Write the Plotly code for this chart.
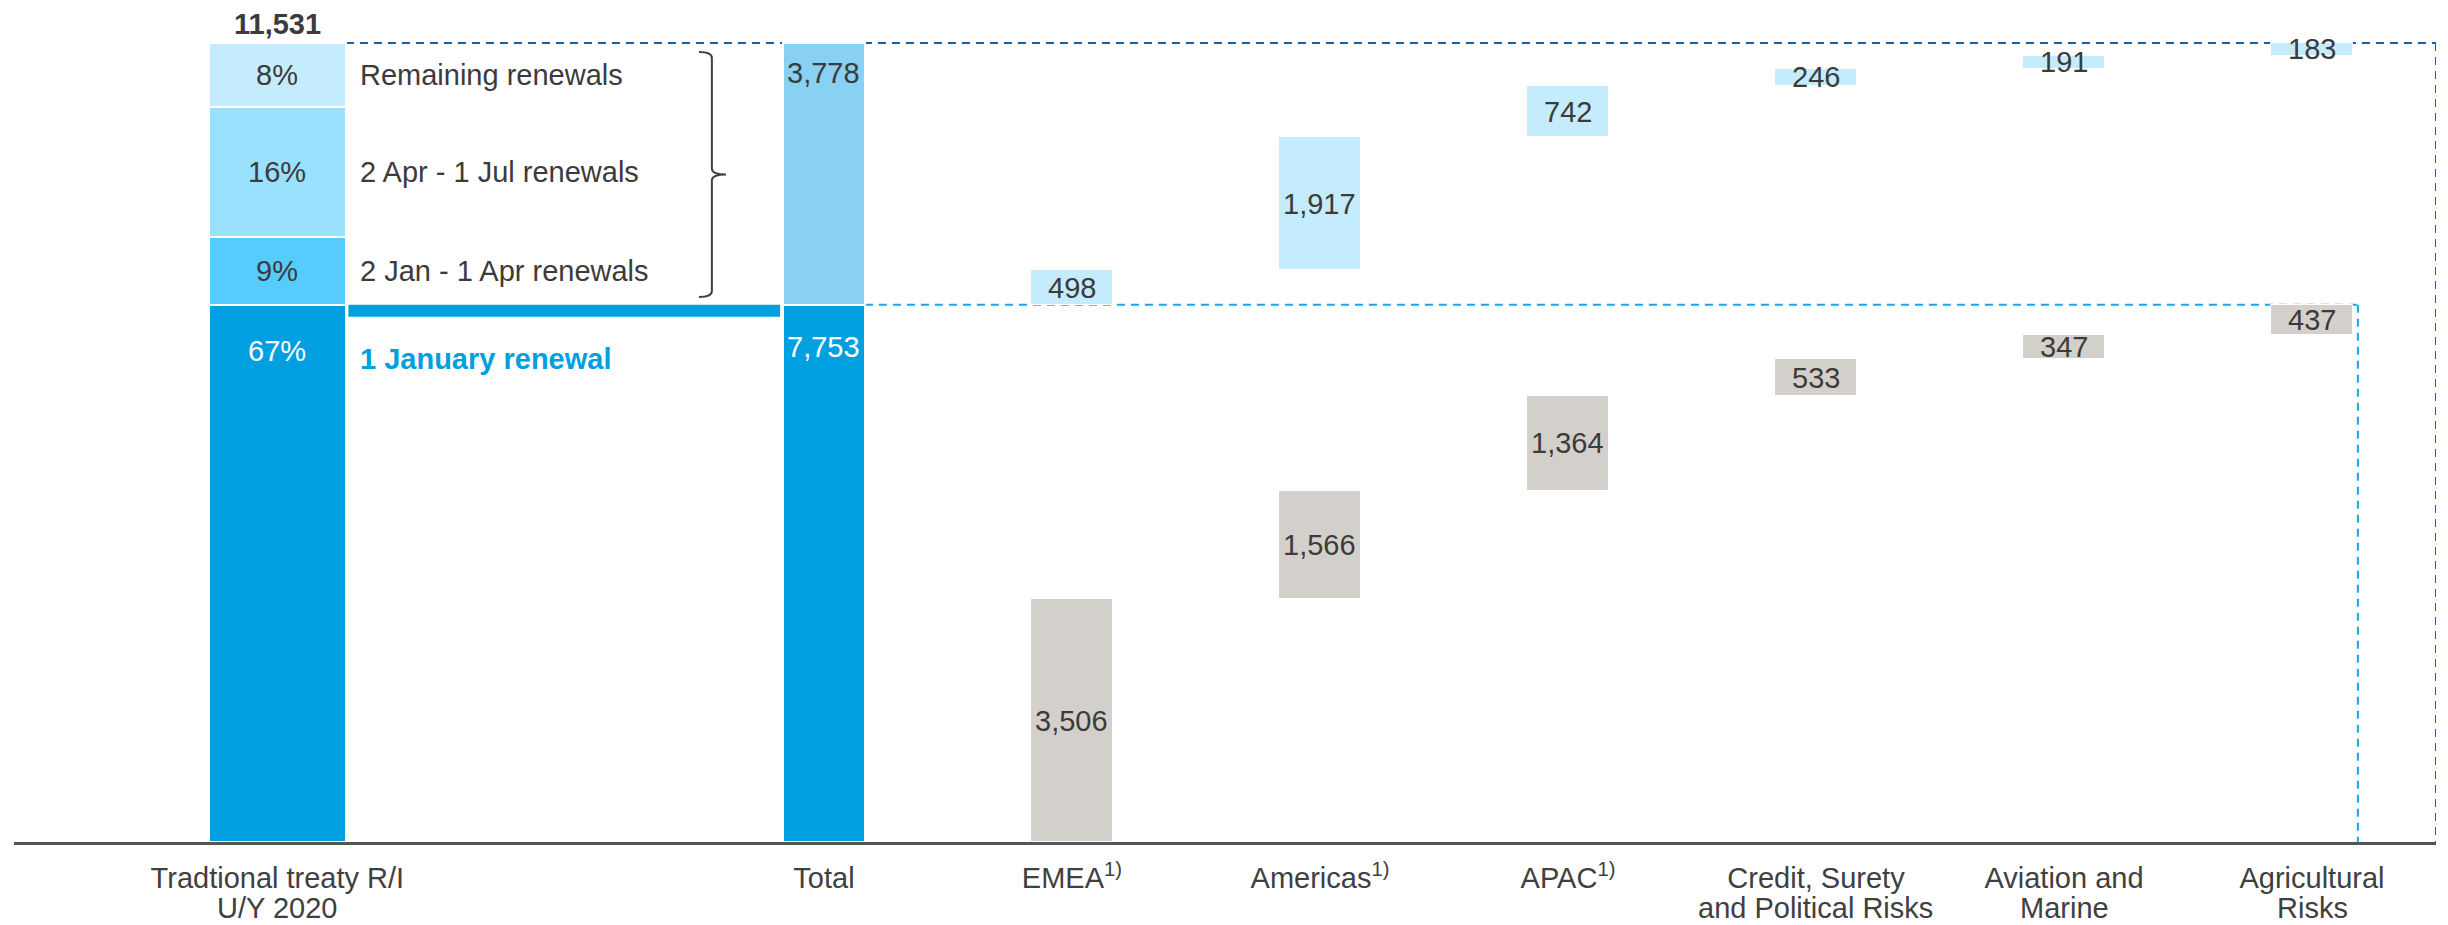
import numpy as np
import plotly.graph_objects as go

# ---------------- data ----------------
categories = ["Tradtional treaty R/I<br>U/Y 2020", "Total", "EMEA<sup>1)</sup>",
              "Americas<sup>1)</sup>", "APAC<sup>1)</sup>",
              "Credit, Surety<br>and Political Risks", "Aviation and<br>Marine",
              "Agricultural<br>Risks"]
grand_total = 11531
total_jan = 7753          # 1 January renewal
total_rest = 3778         # later renewals
segment_names = ["1 January renewal", "2 Jan - 1 Apr renewals",
                 "2 Apr - 1 Jul renewals", "Remaining renewals"]
segment_pct = ["67%", "9%", "16%", "8%"]
segment_values = [7753, 980, 1875, 923]   # (sum = 11,531)
jan_values = [3506, 1566, 1364, 533, 347, 437]    # grey, by segment
rest_values = [498, 1917, 742, 246, 191, 183]     # light blue, by segment

# ---------------- layout / style ----------------
X_POS = [-2.204, 0, 1, 2, 3, 4, 5, 6]
TRAD_W = 0.553
BAR_W = 0.33
X_RANGE = [-3.266, 6.5]
Y_MAX = 12007
FONT = "Liberation Sans, Arial, sans-serif"
FS = 29
TXT = "#3b3b3b"
TICK_TXT = "#404040"
DARK_BLUE = "#009FE0"
SEG_COLORS = [DARK_BLUE, "#55CCFC", "#99E1FD", "#C5ECFD"]
TOTAL_REST_COLOR = "#89D1F2"
LIGHT = "#C5ECFD"
GREY = "#D3D0CB"
DASH_DARK = "#1F5E9E"
DASH_LIGHT = "#1AA7E6"

fig = go.Figure()
annotations = []
shapes = []


def label(x, y, text, color=TXT, yshift=0, xanchor="center", xshift=0, yanchor="middle"):
    return dict(x=x, y=y, text=text, xanchor=xanchor, yanchor=yanchor,
                xshift=xshift, yshift=yshift, showarrow=False,
                font=dict(color=color, size=FS, family=FONT))


# traditional treaty stacked bar
trad_x = X_POS[0]
bases = np.concatenate([[0], np.cumsum(segment_values)[:-1]])
for v, b, c, name in zip(segment_values, bases, SEG_COLORS, segment_names):
    fig.add_trace(go.Bar(x=[trad_x], y=[v], base=[b], width=[TRAD_W],
                         marker=dict(color=c, line=dict(color="white", width=2)),
                         name=name, hoverinfo="skip"))
trad_right = trad_x + TRAD_W / 2
for i, (v, b, pct, name) in enumerate(zip(segment_values, bases, segment_pct, segment_names)):
    if i == 0:
        annotations.append(label(trad_x, b + v, pct, color="white", yshift=-46))
        annotations.append(label(trad_right, b + v, "<b>" + name + "</b>", color=DARK_BLUE,
                                 xanchor="left", xshift=12, yshift=-54))
    else:
        annotations.append(label(trad_x, b + v / 2, pct))
        annotations.append(label(trad_right, b + v / 2, name, xanchor="left", xshift=12))
annotations.append(label(trad_x, grand_total, "<b>" + f"{grand_total:,}" + "</b>", yshift=19))

# total bar
tot_x = X_POS[1]
fig.add_trace(go.Bar(x=[tot_x], y=[total_jan], base=[0], width=[BAR_W],
                     marker=dict(color=DARK_BLUE, line=dict(color="white", width=2)),
                     hoverinfo="skip"))
fig.add_trace(go.Bar(x=[tot_x], y=[total_rest], base=[total_jan], width=[BAR_W],
                     marker=dict(color=TOTAL_REST_COLOR, line=dict(color="white", width=2)),
                     hoverinfo="skip"))
annotations.append(label(tot_x, total_jan, f"{total_jan:,}", color="white", yshift=-42))
annotations.append(label(tot_x, total_jan + total_rest, f"{total_rest:,}", yshift=-30))

# waterfall segments
seg_x = X_POS[2:]
jan_base = np.concatenate([[0], np.cumsum(jan_values)[:-1]])
rest_base = total_jan + np.concatenate([[0], np.cumsum(rest_values)[:-1]])
fig.add_trace(go.Bar(x=seg_x, y=jan_values, base=jan_base, width=BAR_W,
                     marker=dict(color=GREY, line=dict(color="white", width=1)),
                     hoverinfo="skip"))
fig.add_trace(go.Bar(x=seg_x, y=rest_values, base=rest_base, width=BAR_W,
                     marker=dict(color=LIGHT, line=dict(color="white", width=1)),
                     hoverinfo="skip"))
for x, v, b in zip(seg_x, jan_values, jan_base):
    annotations.append(label(x, b + v / 2, f"{v:,}"))
for x, v, b in zip(seg_x, rest_values, rest_base):
    annotations.append(label(x, b + v / 2, f"{v:,}"))

# category labels: first line as tick label, second line (tighter spacing) as annotation
first_lines = [c.split("<br>")[0] for c in categories]
for x, c in zip(X_POS, categories):
    parts = c.split("<br>")
    if len(parts) > 1:
        annotations.append(label(x, 0, parts[1], color=TICK_TXT, yshift=-66))

# dashed guide lines
right_x = X_RANGE[1]
shapes.append(dict(type="line", x0=trad_right, x1=right_x, y0=grand_total, y1=grand_total,
                   line=dict(color=DASH_DARK, width=2, dash="8px,6px"), layer="below"))
shapes.append(dict(type="line", x0=right_x, x1=right_x, y0=grand_total, y1=0,
                   line=dict(color=DASH_DARK, width=2, dash="8px,6px"), layer="below"))
low_right = seg_x[-1] + BAR_W / 2 + 0.02
shapes.append(dict(type="line", x0=tot_x + BAR_W / 2, x1=low_right, y0=total_jan, y1=total_jan,
                   line=dict(color=DASH_LIGHT, width=2, dash="8px,6px"), layer="below"))
shapes.append(dict(type="line", x0=low_right, x1=low_right, y0=total_jan, y1=0,
                   line=dict(color=DASH_LIGHT, width=2, dash="8px,6px"), layer="below"))

# blue band "1 January renewal"
shapes.append(dict(type="rect", x0=trad_right + 0.01, x1=tot_x - BAR_W / 2 - 0.012,
                   ysizemode="pixel", yanchor=total_jan, y0=-12, y1=0,
                   fillcolor=DARK_BLUE, line=dict(width=0)))

# brace
bx0, bx1, bx2 = -0.504, -0.452, -0.395
yt, yb = 11401, 7865
ym = (yt + yb) / 2
r = 86
brace = (f"M {bx0},{yt} Q {bx1},{yt} {bx1},{yt - r} L {bx1},{ym + r} "
         f"Q {bx1},{ym} {bx2},{ym} Q {bx1},{ym} {bx1},{ym - r} "
         f"L {bx1},{yb + r} Q {bx1},{yb} {bx0},{yb}")
shapes.append(dict(type="path", path=brace, line=dict(color="#404040", width=2)))

# page body has an 8px default margin: size/margins compensate for it
fig.update_layout(
    width=2440, height=917,
    margin=dict(l=6, r=12, t=2, b=83, autoexpand=False),
    barmode="overlay", bargap=0,
    showlegend=False,
    plot_bgcolor="white", paper_bgcolor="white",
    font=dict(family=FONT, size=FS, color=TXT),
    annotations=annotations, shapes=shapes,
    xaxis=dict(range=X_RANGE, tickvals=X_POS, ticktext=first_lines,
               showgrid=False, zeroline=False, showline=True, linecolor="#555555",
               linewidth=3, ticks="", ticklabelstandoff=8, automargin=False,
               tickfont=dict(family=FONT, size=FS, color=TICK_TXT)),
    yaxis=dict(range=[0, Y_MAX], visible=False, showgrid=False, zeroline=False,
               automargin=False),
)

fig.write_html("out.html")
